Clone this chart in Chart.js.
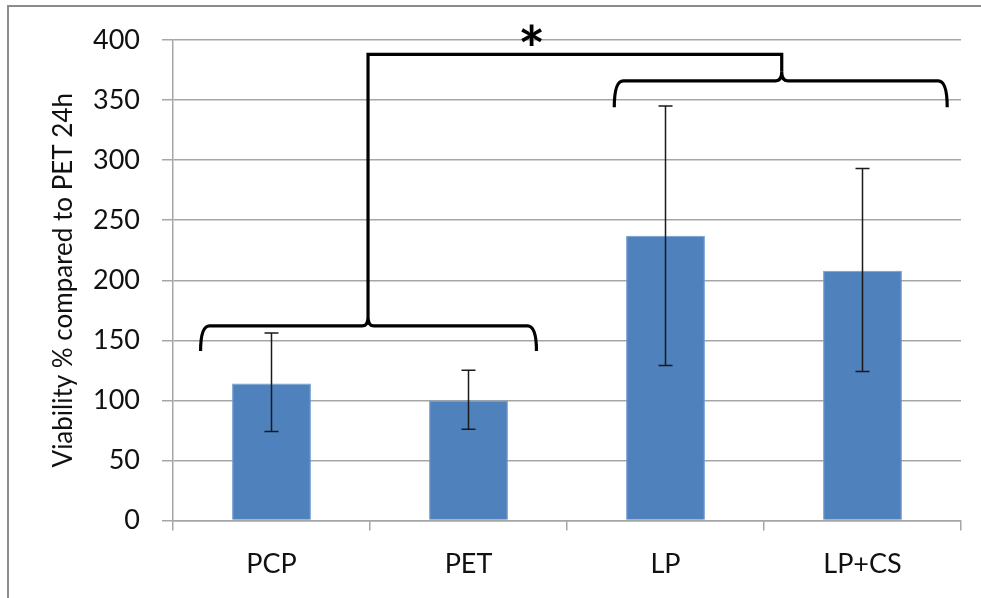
<!DOCTYPE html>
<html>
<head>
<meta charset="utf-8">
<script src="https://cdn.jsdelivr.net/npm/chart.js@4"></script>
<style>
  body { margin: 0; background: #fff; }
</style>
</head>
<body>
<canvas id="myChart" width="981" height="598"></canvas>
<script>
// data
var labels = ['PCP', 'PET', 'LP', 'LP+CS'];
var means = [114, 100, 237, 208];
var errHigh = [156, 125, 345, 293];
var errLow = [74, 76, 129, 124];
var yTicks = [0, 50, 100, 150, 200, 250, 300, 350, 400];

// significance braces, in category index / value units
var braces = [
    { from: -0.36, to: 1.345, mid: 0.49, level: 162, ends: 141 },
    { from: 1.74, to: 3.43, mid: 2.59, level: 366, ends: 344 }
];
var linkLevel = 388;
var star = { x: 1.32, y: 402, text: '*' };

var FONT = 'Lato';

var frame = {
    id: 'frame',
    beforeDraw: function(chart) {
        var c = chart.ctx;
        c.save();
        c.strokeStyle = '#8c8c8c';
        c.lineWidth = 2;
        c.strokeRect(8, 6, 1100, 1100);
        c.restore();
    }
};

var errorBars = {
    id: 'errorBars',
    afterDatasetsDraw: function(chart) {
        var c = chart.ctx;
        var x = chart.scales.x, y = chart.scales.y;
        c.save();
        c.strokeStyle = '#1a1a1a';
        c.lineWidth = 1.5;
        for (var i = 0; i < labels.length; i++) {
            var px = x.getPixelForValue(i);
            var top = y.getPixelForValue(errHigh[i]);
            var bot = y.getPixelForValue(errLow[i]);
            c.beginPath();
            c.moveTo(px, top); c.lineTo(px, bot);
            c.moveTo(px - 7, top); c.lineTo(px + 7, top);
            c.moveTo(px - 7, bot); c.lineTo(px + 7, bot);
            c.stroke();
        }
        c.restore();
    }
};

function drawBrace(c, xs, ys, b) {
    var x0 = xs.getPixelForValue(b.from);
    var x1 = xs.getPixelForValue(b.to);
    var xm = xs.getPixelForValue(b.mid);
    var yl = ys.getPixelForValue(b.level);
    var ye = ys.getPixelForValue(b.ends);
    c.beginPath();
    c.moveTo(x0, ye);
    c.quadraticCurveTo(x0, yl, x0 + 9, yl);
    c.lineTo(xm - 6, yl);
    c.quadraticCurveTo(xm, yl, xm, yl - 9);
    c.quadraticCurveTo(xm, yl, xm + 6, yl);
    c.lineTo(x1 - 9, yl);
    c.quadraticCurveTo(x1, yl, x1, ye);
    c.stroke();
    return { x: xm, y: yl - 9 };
}

var brackets = {
    id: 'brackets',
    afterDraw: function(chart) {
        var c = chart.ctx;
        var xs = chart.scales.x, ys = chart.scales.y;
        c.save();
        c.strokeStyle = '#000';
        c.lineWidth = 3.2;
        c.lineJoin = 'miter';
        var tips = braces.map(function(b) { return drawBrace(c, xs, ys, b); });
        var yTop = ys.getPixelForValue(linkLevel);
        c.beginPath();
        c.moveTo(tips[0].x, tips[0].y);
        c.lineTo(tips[0].x, yTop);
        c.lineTo(tips[1].x, yTop);
        c.lineTo(tips[1].x, tips[1].y);
        c.stroke();
        c.fillStyle = '#000';
        c.font = 'bold 64px ' + FONT;
        c.textAlign = 'center';
        c.textBaseline = 'middle';
        c.fillText(star.text, xs.getPixelForValue(star.x), ys.getPixelForValue(star.y) + 15);
        c.restore();
    }
};

var ctx = document.getElementById('myChart').getContext('2d');
var myChart = new Chart(ctx, {
    type: 'bar',
    data: {
        labels: labels,
        datasets: [{
            label: 'Viability',
            data: means,
            backgroundColor: '#4f81bd',
            borderColor: '#6f9bd1',
            borderWidth: 1,
            barPercentage: 0.4,
            categoryPercentage: 1
        }]
    },
    options: {
        responsive: false,
        animation: false,
        layout: { padding: { left: 10, top: 40, right: 20, bottom: 0 } },
        plugins: { legend: { display: false }, tooltip: { enabled: false } },
        scales: {
            x: {
                offset: true,
                grid: { offset: true, drawOnChartArea: false, color: '#a6a6a6', lineWidth: 1.5, tickLength: 10 },
                border: { color: '#a6a6a6', width: 1.5 },
                ticks: { color: '#111', font: { family: FONT, size: 27 }, padding: 18 },
                afterFit: function(s) { s.height = 598 - 520.5; }
            },
            y: {
                min: 0,
                max: 400,
                afterBuildTicks: function(s) { s.ticks = yTicks.map(function(v) { return { value: v }; }); },
                grid: { color: '#a6a6a6', lineWidth: 1.5, tickLength: 11 },
                border: { color: '#a6a6a6', width: 1.5 },
                ticks: { color: '#111', font: { family: FONT, size: 27 }, padding: 22 },
                title: {
                    display: true,
                    text: 'Viability % compared to PET 24h',
                    color: '#111',
                    font: { family: FONT, size: 26 },
                    padding: { top: 38, bottom: 0 }
                },
                afterFit: function(s) { s.width = 173 - 10; }
            }
        }
    },
    plugins: [frame, errorBars, brackets]
});
</script>
</body>
</html>
